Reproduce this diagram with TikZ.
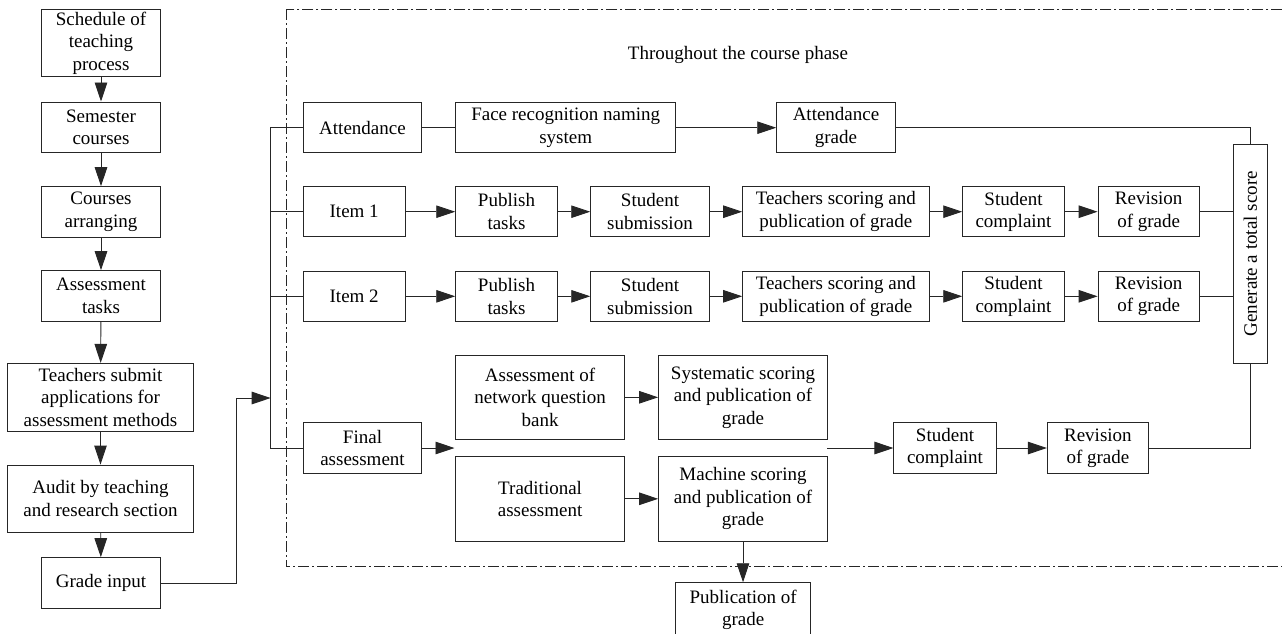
\documentclass[tikz,border=0pt]{standalone}
\usepackage{fontspec}
\setmainfont{Liberation Serif}
\usetikzlibrary{arrows.meta}
\begin{document}
\begin{tikzpicture}[x=1pt,y=-1pt,
  line/.style={line width=0.9pt,draw=black!85},
  box/.style={draw=black!85,line width=0.9pt,fill=white,inner sep=0pt,align=center,
    font=\fontsize{19}{22.5}\selectfont},
  arr/.style={line,-{Triangle[length=19pt,width=12.5pt]}},
  phase/.style={line width=0.9pt,draw=black!85,dash pattern=on 11pt off 3pt on 2pt off 3pt}]
\useasboundingbox (0,0) rectangle (1282,633);
% dashed phase frame
\draw[phase] (286,9) rectangle (1300,566.7);
\node[font=\fontsize{19}{22.5}\selectfont] (title) at (738,55) {Throughout the course phase};
% left column
\node[box,minimum width=118.3pt,minimum height=67.4pt] (sched) at (101,43) {Schedule of\\teaching\\process};
\node[box,minimum width=118.3pt,minimum height=50.7pt] (sem) at (101,127.3) {Semester\\courses};
\node[box,minimum width=118.3pt,minimum height=50.7pt] (arrg) at (101,212) {Courses\\arranging};
\node[box,minimum width=118.3pt,minimum height=50.7pt] (asst) at (101,296) {Assessment\\tasks};
\node[box,minimum width=185.6pt,minimum height=67.7pt] (teach) at (100.5,397.2) {Teachers submit\\applications for\\assessment methods};
\node[box,minimum width=185.6pt,minimum height=67.3pt] (audit) at (100.5,498.7) {Audit by teaching\\and research section};
\node[box,minimum width=118.3pt,minimum height=50.7pt] (grade) at (101,583) {Grade input};
\draw[arr] (sched) -- (sem);
\draw[arr] (sem) -- (arrg);
\draw[arr] (arrg) -- (asst);
\draw[arr] (asst) -- (teach);
\draw[arr] (teach) -- (audit);
\draw[arr] (audit) -- (grade);
% bus
\coordinate (bustop) at (270.7,127.7);
\coordinate (busin) at (270.7,398);
\draw[arr] (grade.east) -- ++(76,0) |- (busin);
% attendance row
\node[box,minimum width=118.4pt,minimum height=50pt] (att) at (362.5,127.7) {Attendance};
\node[box,minimum width=220pt,minimum height=50pt] (face) at (565.7,127.7) {Face recognition naming\\system};
\node[box,minimum width=118.6pt,minimum height=50pt] (attg) at (836,127.7) {Attendance\\grade};
% generate
\node[box,minimum width=33.8pt,minimum height=219pt] (gen) at (1250.4,253.8) {};
\node[rotate=90,font=\fontsize{19}{22.5}\selectfont,inner sep=0pt] (gentxt) at (gen.center) {Generate a total score};
% item rows
\foreach \r/\y/\lab in {1/211.7/Item 1,2/296.3/Item 2}{
  \node[box,minimum width=101.7pt,minimum height=50pt] (item\r) at (354.2,\y) {\lab};
  \node[box,minimum width=101.6pt,minimum height=50pt] (pub\r) at (506.5,\y) {Publish\\tasks};
  \node[box,minimum width=118.6pt,minimum height=50pt] (sub\r) at (650,\y) {Student\\submission};
  \node[box,minimum width=186.3pt,minimum height=50pt] (tsc\r) at (835.8,\y) {Teachers scoring and\\publication of grade};
  \node[box,minimum width=101.6pt,minimum height=50pt] (comp\r) at (1013.5,\y) {Student\\complaint};
  \node[box,minimum width=101.3pt,minimum height=50pt] (rev\r) at (1148.7,\y) {Revision\\of grade};
  \draw[arr] (item\r) -- (pub\r);
  \draw[arr] (pub\r) -- (sub\r);
  \draw[arr] (sub\r) -- (tsc\r);
  \draw[arr] (tsc\r) -- (comp\r);
  \draw[arr] (comp\r) -- (rev\r);
  \draw[line] (rev\r.east) -- (rev\r.east -| gen.west);
  \draw[line] (item\r.west) -- (item\r.west -| bustop);
}
% final row
\node[box,minimum width=118.4pt,minimum height=50.6pt] (final) at (362.5,448) {Final\\assessment};
\node[box,minimum width=168.8pt,minimum height=84pt] (net) at (540.1,397.3) {Assessment of\\network question\\bank};
\node[box,minimum width=168.8pt,minimum height=84pt] (sys) at (743,397.3) {Systematic scoring\\and publication of\\grade};
\node[box,minimum width=168.8pt,minimum height=84.3pt] (trad) at (540.1,498.8) {Traditional\\assessment};
\node[box,minimum width=168.8pt,minimum height=84.3pt] (mach) at (743,498.8) {Machine scoring\\and publication of\\grade};
\node[box,minimum width=102.2pt,minimum height=50.6pt] (comp3) at (945,448) {Student\\complaint};
\node[box,minimum width=101.1pt,minimum height=50.6pt] (rev3) at (1097.9,448) {Revision\\of grade};
\node[box,minimum width=135pt,minimum height=54pt] (pubg) at (743.2,609.7) {Publication of\\grade};
\coordinate (fa) at (454.5,448);
\coordinate (sm) at (827.4,448);
% connectors
\draw[line] (att.west) -- (att.west -| bustop) -- (final.west -| bustop) -- (final.west);
\draw[line] (att) -- (face);
\draw[arr] (face) -- (attg);
\draw[line] (attg.east) -| (gen.north);
\draw[arr] (final) -- (fa);
\draw[arr] (net) -- (sys);
\draw[arr] (trad) -- (mach);
\draw[arr] (sm) -- (comp3);
\draw[arr] (comp3) -- (rev3);
\draw[line] (rev3.east) -| (gen.south);
\draw[arr] (mach.south) -- (mach.south |- pubg.north);
\end{tikzpicture}
\end{document}
